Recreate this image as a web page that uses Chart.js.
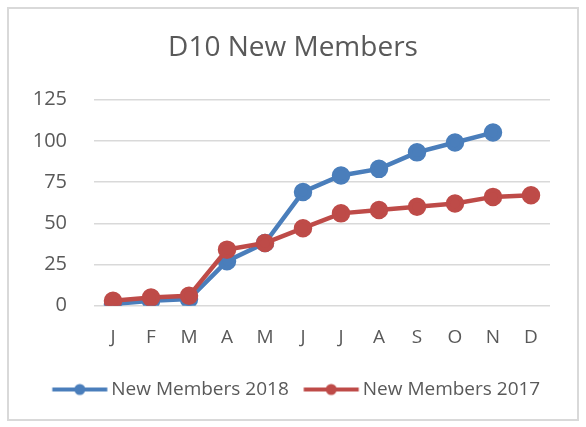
<!DOCTYPE html>
<html>
<head>
<meta charset="utf-8">
<script src="https://cdn.jsdelivr.net/npm/chart.js@4"></script>
<style>
  body { margin: 0; background: #fff; }
  #wrap { position: absolute; left: 0; top: 0; width: 586px; height: 427px; }
</style>
</head>
<body>
<div id="wrap"><canvas id="myChart"></canvas></div>
<script>
const months = ['J','F','M','A','M','J','J','A','S','O','N','D'];
const members2018 = [1, 3, 4, 27, 38, 69, 79, 83, 93, 99, 105, null];
const members2017 = [3, 5, 6, 34, 38, 47, 56, 58, 60, 62, 66, 67];
const yTicks = [0, 25, 50, 75, 100, 125];

const blue = '#4a7ebb';
const red = '#be4b48';
const grey = '#595959';

// legend marker: line with a dot, placed so it ends just before the text
function legendMarker(color) {
    const c = document.createElement('canvas');
    c.width = 64; c.height = 14;
    const g = c.getContext('2d');
    g.strokeStyle = color; g.lineWidth = 4;
    g.beginPath(); g.moveTo(7.5, 7); g.lineTo(62.5, 7); g.stroke();
    g.fillStyle = color;
    g.beginPath(); g.arc(35, 7, 5.5, 0, Math.PI * 2); g.fill();
    return c;
}

const frame = {
    id: 'frame',
    beforeDraw(chart) {
        const ctx = chart.ctx;
        ctx.save();
        ctx.fillStyle = '#fff';
        ctx.fillRect(0, 0, chart.width, chart.height);
        ctx.strokeStyle = '#d9d9d9';
        ctx.lineWidth = 2;
        ctx.strokeRect(8, 8, 570, 412);
        ctx.restore();
    }
};

// title and legend sit a little right of the plot centre in the original
const nudge = {
    id: 'nudge',
    afterLayout(chart) {
        chart.legend.left += 16; chart.legend.right += 16;
        chart.titleBlock.left += 13; chart.titleBlock.right += 13;
    }
};

const ctx = document.getElementById('myChart').getContext('2d');
const myChart = new Chart(ctx, {
    type: 'line',
    data: {
        labels: months,
        datasets: [
            {
                label: 'New Members 2018',
                data: members2018,
                borderColor: blue,
                backgroundColor: blue,
                borderWidth: 4.5,
                pointRadius: 7,
                pointHoverRadius: 7,
                pointStyle: 'circle',
                pointBackgroundColor: blue,
                pointBorderColor: blue,
                order: 1
            },
            {
                label: 'New Members 2017',
                data: members2017,
                borderColor: red,
                backgroundColor: red,
                borderWidth: 4.5,
                pointRadius: 7,
                pointHoverRadius: 7,
                pointStyle: 'circle',
                pointBackgroundColor: red,
                pointBorderColor: red,
                order: 0
            }
        ]
    },
    options: {
        responsive: true,
        maintainAspectRatio: false,
        animation: false,
        layout: { padding: { left: 10, right: 36, top: 0, bottom: 18 } },
        plugins: {
            title: {
                display: true,
                text: 'D10 New Members',
                color: grey,
                font: { family: 'Open Sans', size: 28, weight: 'normal' },
                padding: { top: 31, bottom: 35 }
            },
            legend: {
                position: 'bottom',
                labels: {
                    color: grey,
                    font: { family: 'Open Sans', size: 19 },
                    usePointStyle: true,
                    pointStyleWidth: 50,
                    padding: 14.5,
                    generateLabels(chart) {
                        return chart.data.datasets.map((ds, i) => ({
                            text: ds.label,
                            fontColor: grey,
                            pointStyle: legendMarker(ds.borderColor),
                            fillStyle: ds.borderColor,
                            strokeStyle: ds.borderColor,
                            lineWidth: 0,
                            datasetIndex: i
                        }));
                    }
                }
            },
            tooltip: { enabled: false }
        },
        scales: {
            x: {
                offset: true,
                afterFit(scale) { scale.height += 5; },
                grid: { display: false },
                border: { display: false },
                ticks: {
                    color: grey,
                    font: { family: 'Open Sans', size: 19 },
                    padding: 12,
                    autoSkip: false,
                    maxRotation: 0
                }
            },
            y: {
                min: 0,
                max: 125,
                afterFit(scale) { scale.width = 84; },
                afterBuildTicks(scale) { scale.ticks = yTicks.map(v => ({ value: v })); },
                grid: { color: '#d9d9d9', lineWidth: 1.5, drawTicks: false },
                border: { display: false },
                ticks: {
                    color: grey,
                    font: { family: 'Open Sans', size: 20 },
                    padding: 27
                }
            }
        }
    },
    plugins: [frame, nudge]
});
</script>
</body>
</html>
